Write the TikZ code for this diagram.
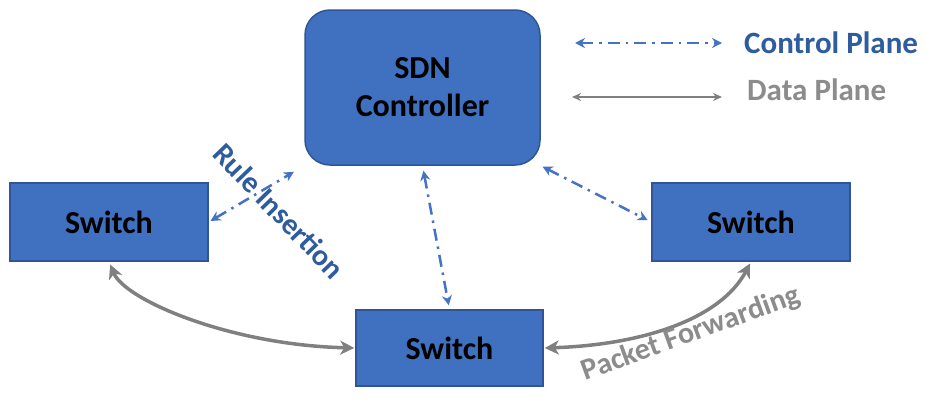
\documentclass[tikz,border=0pt]{standalone}
\usepackage{fontspec}
\setmainfont{Carlito}
\usetikzlibrary{arrows.meta}
\definecolor{boxfill}{RGB}{64,112,192}
\definecolor{boxedge}{RGB}{47,85,151}
\definecolor{ctrlblue}{RGB}{68,114,196}
\definecolor{ctrltext}{RGB}{46,92,158}
\definecolor{datagrey}{RGB}{128,128,128}
\definecolor{datatext}{RGB}{140,140,140}
\begin{document}
\begin{tikzpicture}[x=1pt,y=-1pt,
  box/.style={draw=boxedge,line width=1.5pt,fill=boxfill,font=\bfseries\fontsize{32}{38}\selectfont,text=black,inner sep=0pt,align=center},
  ctrl/.style={draw=ctrlblue,line width=2.5pt,dash pattern=on 12pt off 6pt on 2.5pt off 6pt,{Stealth[length=10pt,width=10pt]}-{Stealth[length=10pt,width=10pt]}},
  data/.style={draw=datagrey,line width=3.5pt,{Stealth[length=14pt,width=14pt,inset=4pt]}-{Stealth[length=14pt,width=14pt,inset=4pt]}},
  lbl/.style={font=\bfseries\fontsize{30}{34}\selectfont,inner sep=0pt}]
\useasboundingbox (0,0) rectangle (927,399);
\fill[white] (0,0) rectangle (927,399);
% nodes
\node[box,rounded corners=25pt,minimum width=235pt,minimum height=155pt] (ctrl) at (422.5,87.5) {SDN\\Controller};
\node[box,minimum width=198pt,minimum height=78pt] (ls) at (109,222) {Switch};
\node[box,minimum width=187pt,minimum height=76pt] (bs) at (449.5,348) {Switch};
\node[box,minimum width=198pt,minimum height=78pt] (rs) at (751,222) {Switch};
% control plane connectors
\draw[ctrl,shorten <=2pt,shorten >=12pt] (ls.east) -- (ctrl.south west);
\draw[ctrl,shorten <=5pt,shorten >=4pt] (ctrl.south) -- (bs.north);
\draw[ctrl,shorten <=2pt,shorten >=4pt] (ctrl.south east) -- (rs.west);
% data plane connectors
\draw[data,shorten <=3pt,shorten >=1pt] (ls.south) .. controls (125,300) and (230,345) .. (bs.west);
\draw[data,shorten <=1pt,shorten >=2pt] (bs.east) .. controls (640,345) and (720,320) .. (rs.south);
% labels
\node[lbl,text=ctrltext,rotate=-46] (ri) at (279,211) {Rule Insertion};
\node[lbl,text=datatext,rotate=20] (pf) at (691,334) {Packet Forwarding};
% legend
\coordinate (c1) at (575,43);
\coordinate (c2) at (722,43);
\coordinate (d1) at (572,97);
\coordinate (d2) at (722,97);
\draw[ctrl] (c1) -- (c2);
\draw[draw=datagrey,line width=2pt,{Stealth[length=9pt,width=8pt]}-{Stealth[length=9pt,width=8pt]}] (d1) -- (d2);
\node[lbl,text=ctrltext,anchor=west,font=\bfseries\fontsize{31}{34}\selectfont] (cp) at (744,43) {Control Plane};
\node[lbl,text=datatext,anchor=west,font=\bfseries\fontsize{31}{34}\selectfont] (dp) at (747,90) {Data Plane};
\end{tikzpicture}
\end{document}
